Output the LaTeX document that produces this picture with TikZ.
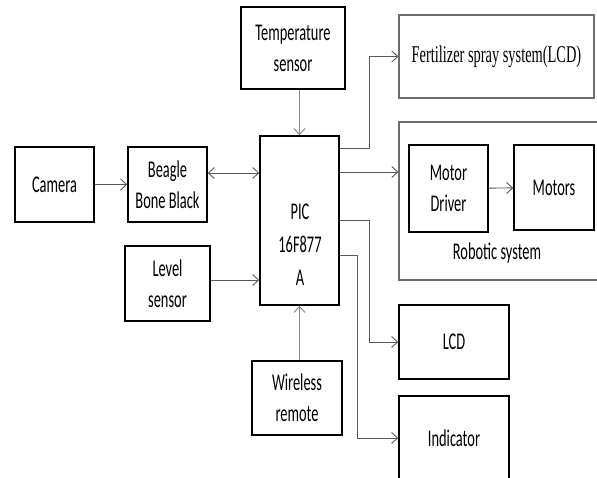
\documentclass[tikz,border=0pt]{standalone}
\usepackage{fontspec}
\usepackage{tikz}
\usetikzlibrary{positioning,arrows.meta,calc}
\newfontfamily\blockfont{Carlito}[FakeStretch=0.6]
\newfontfamily\serifblock{Liberation Serif}[FakeStretch=0.6]
\definecolor{linegray}{RGB}{90,90,90}
\definecolor{framegray}{RGB}{110,110,110}

\begin{document}
\begin{tikzpicture}[
  x=1pt, y=-1pt,
  block/.style={draw, line width=1.5pt, align=center, inner sep=0pt,
    font=\blockfont\fontsize{24}{31}\selectfont},
  frame/.style={draw=framegray, line width=1.1pt, align=center, inner sep=0pt},
  arr/.style={-{Straight Barb[length=6pt,width=11pt]}, line width=0.9pt, linegray},
  varr/.style={-{Straight Barb[length=6pt,width=11pt]}, line width=1pt, black!45},
  biarr/.style={{Straight Barb[length=6pt,width=11pt]}-{Straight Barb[length=6pt,width=11pt]}, line width=0.9pt, linegray}
]
  \useasboundingbox[fill=white] (0,0) rectangle (597,477);

  % --- Left side ---
  \node[block, minimum width=79pt, minimum height=75pt]  (camera) at (54.5,184.5) {Camera};
  \node[block, minimum width=79pt, minimum height=75pt]  (beagle) at (167.5,184.5) {Beagle\\Bone Black};
  \node[block, minimum width=85pt, minimum height=75pt]  (level)  at (167.5,283.5) {Level\\sensor};

  % --- Controller ---
  \node[block, minimum width=79pt, minimum height=169pt] (pic)    at (299.5,220.5) {};
  \node[font=\blockfont\fontsize{24}{33}\selectfont, align=center] (pictxt) at (300,245) {PIC\\16F877\\A};
  \node[block, minimum width=104pt, minimum height=82pt] (temp)   at (293,48) {Temperature\\sensor};
  \node[block, minimum width=90pt, minimum height=74pt]  (remote) at (297,398) {Wireless\\remote};

  \draw[arr]   (camera) -- (beagle);
  \draw[biarr] ([yshift=11.5pt]beagle.east) -- ([yshift=11.5pt]beagle.east -| pic.west);
  \draw[arr]   ([yshift=3.5pt]level.east) -- ([yshift=3.5pt]level.east -| pic.west);
  \draw[varr]  (temp.south -| pic.north) -- (pic.north);
  \draw[varr]  (pic.south |- remote.north) -- (pic.south);

  % --- Right side ---
  \node[frame, minimum width=195pt, minimum height=83pt,
    font=\serifblock\fontsize{24}{30}\selectfont] (fert) at (496.5,56.5) {Fertilizer spray system(LCD)};
  \node[frame, minimum width=206pt, minimum height=158pt] (robot) at (502,201) {};
  \node[font=\blockfont\fontsize{24}{31}\selectfont] (robotlbl) at (497,253) {Robotic system};
  \node[block, minimum width=79pt, minimum height=87pt]  (mdrv)   at (448.5,188.5) {Motor\\Driver};
  \node[block, minimum width=80pt, minimum height=85pt]  (motors) at (554,187.5) {Motors};
  \node[block, minimum width=110pt, minimum height=74pt] (lcd)    at (454,342) {LCD};
  \node[block, minimum width=110pt, minimum height=84pt] (ind)    at (454,438) {Indicator};

  \draw[arr] (mdrv) -- (motors);
  \draw[arr] ([yshift=72.5pt]pic.east) -- ++(30pt,0) |- (fert.west);
  \draw[arr] ([yshift=48.5pt]pic.east) -- ([yshift=48.5pt]pic.east -| robot.west);
  \draw[arr] (pic.east) -- ++(30pt,0) |- (lcd.west);
  \draw[arr] ([yshift=-34.5pt]pic.east) -- ++(18pt,0) |- (ind.west);
\end{tikzpicture}
\end{document}
